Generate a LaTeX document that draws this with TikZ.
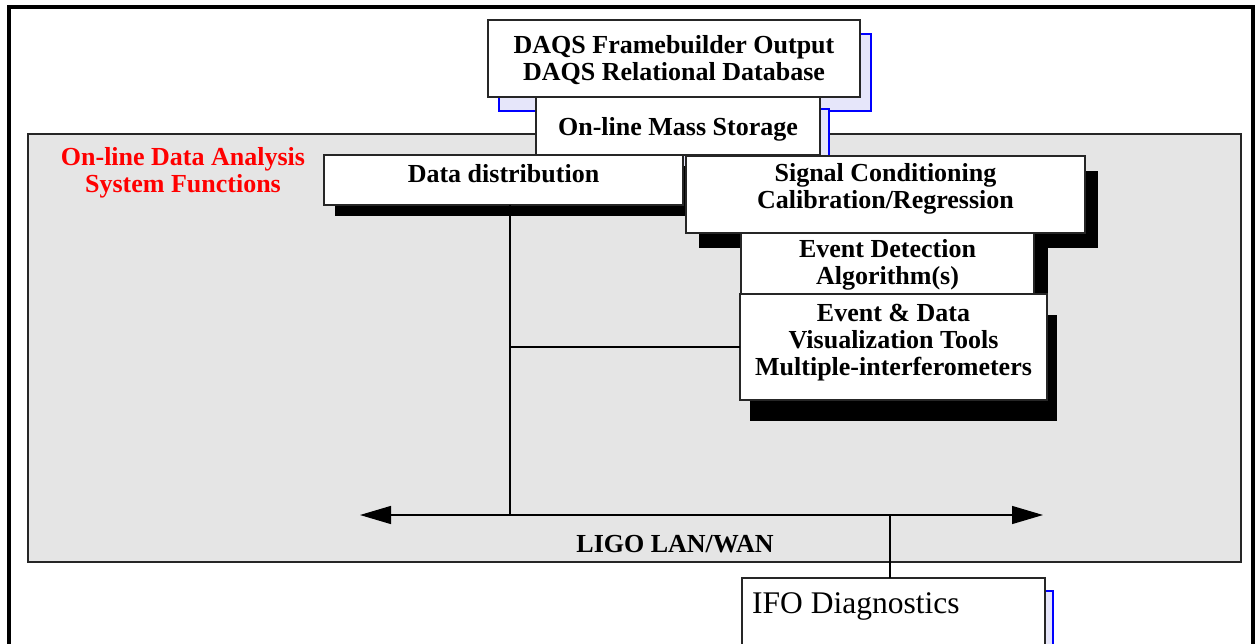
\documentclass[tikz,border=0pt]{standalone}
\usepackage{fontspec}
\setmainfont{Liberation Serif}
\usetikzlibrary{positioning,shadows,arrows.meta}
\definecolor{panelgray}{RGB}{229,229,229}
\definecolor{lavender}{RGB}{230,230,250}
\tikzset{box/.style={draw=black!85, fill=white, line width=1.2pt, inner sep=0pt,
outer sep=0pt, anchor=north west},
blkshadow/.style 2 args={general shadow={fill=black, shadow xshift=#1pt, shadow yshift=-#2pt}},
blushadow/.style 2 args={general shadow={fill=lavender, draw=blue, line width=1.2pt,
shadow xshift=#1pt, shadow yshift=-#2pt}},
lbl/.style={inner sep=0pt, align=center, font=\fontsize{26}{27}\selectfont\bfseries},
wire/.style={line width=1.3pt}}

\begin{document}
\begin{tikzpicture}[x=1pt,y=-1pt]
				\useasboundingbox (0,0) rectangle (1257,644);
				\draw[line width=4.5pt] (9,670) -- (9,7) -- (1253,7) -- (1253,670);
				\draw[draw=black!85, fill=panelgray, line width=1.5pt] (28,134) rectangle (1241,562);
				\node[box, blushadow={11}{14}, minimum width=372pt, minimum height=77pt] (daqs) at (488,20) {};
				\node[lbl, below=15pt of daqs.north] (daqstxt) {DAQS Framebuilder Output\\DAQS Relational Database};
				\node[box, blushadow={9}{12}, minimum width=284pt, minimum height=58pt] (mss) at (536,97) {};
				\node[lbl, below=20pt of mss.north] (msstxt) {On-line Mass Storage};
				\node[box, blkshadow={11}{11}, minimum width=359pt, minimum height=50pt] (dd) at (324,155) {};
				\node[lbl, below=9pt of dd.north] (ddtxt) {Data distribution};
				\node[box, blkshadow={13}{15}, minimum width=399pt, minimum height=77pt] (sig) at (686,156) {};
				\node[lbl, below=7pt of sig.north] (sigtxt) {Signal Conditioning\\Calibration/Regression};
				\node[box, blkshadow={14}{15}, minimum width=293pt, minimum height=61pt] (evd) at (741,233) {};
				\node[lbl, below=6pt of evd.north] (evdtxt) {Event Detection\\Algorithm(s)};
				\node[box, blkshadow={10}{21}, minimum width=307pt, minimum height=106pt] (vis) at (740,294) {};
				\node[lbl, below=10pt of vis.north] (vistxt) {Event \& Data\\Visualization Tools\\Multiple-interferometers};
				\node[box, blushadow={8}{13}, minimum width=303pt, minimum height=80pt] (ifo) at (742,578) {};
				\node[inner sep=0pt, font=\fontsize{31.5}{34}\selectfont, below right=14pt and 10pt of ifo.north west] (ifotxt) {IFO Diagnostics};
				\node[lbl, text=red, anchor=north] (sysfn) at (183,147) {On-line Data Analysis\\System Functions};
				\coordinate (lanL) at (360,515);
				\coordinate (lanR) at (1043,515);
				\draw[wire, {Triangle[length=31pt,width=18pt]}-{Triangle[length=31pt,width=18pt]}] (lanL) -- (lanR);
				\node[lbl] (lan) at (675,544) {LIGO LAN/WAN};
				\coordinate (tap) at (510,515);
				\draw[wire] (tap |- dd.south) -- (tap);
				\draw[wire] (tap |- vis.west) -- (vis.west);
				\coordinate (ifotap) at (890,515);
				\draw[wire] (ifotap) -- (ifotap |- ifo.north);
			\end{tikzpicture}
\end{document}
